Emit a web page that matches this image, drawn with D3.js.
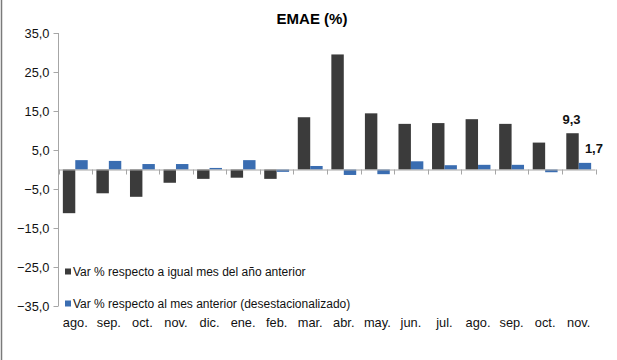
<!DOCTYPE html>
<html><head><meta charset="utf-8">
<script src="https://cdn.jsdelivr.net/npm/d3@7"></script>
<style>body{margin:0;background:#fff}svg{display:block}</style>
</head><body>
<svg id="c" width="617" height="360"></svg>
<script>
const categories = ["ago.","sep.","oct.","nov.","dic.","ene.","feb.","mar.","abr.","may.","jun.","jul.","ago.","sep.","oct.","nov."];
const interanual = [-11.2,-6.1,-7.0,-3.4,-2.4,-2.1,-2.4,13.4,29.5,14.4,11.7,11.9,12.9,11.7,6.9,9.3];
const mensual = [2.4,2.2,1.4,1.4,0.4,2.4,-0.6,0.9,-1.4,-1.2,2.1,1.1,1.2,1.2,-0.7,1.7];
const yTicks = [35,25,15,5,-5,-15,-25,-35];
const seriesNames = ["Var % respecto a igual mes del año anterior","Var % respecto al mes anterior (desestacionalizado)"];
const colors = ["#3b3b3b","#3a6db1"];

const svg = d3.select("#c");
const font = "'Liberation Sans', Arial, sans-serif";
const fmt = v => d3.format(".1f")(v).replace(".", ",");

const x = d3.scaleBand().domain(d3.range(categories.length)).range([58.5, 595.5]).paddingInner(0).paddingOuter(0);
const y = d3.scaleLinear().domain([-35, 35]).range([306, 33]);
const inner = d3.scaleBand().domain([0,1]).range([0, x.bandwidth()]).paddingInner(0).paddingOuter(0.35);

// left border
svg.append("line").attr("x1",1.5).attr("x2",1.5).attr("y1",0).attr("y2",360).attr("stroke","#7a7a7a").attr("stroke-width",1.5);

// title
svg.append("text").attr("x",312).attr("y",24).attr("text-anchor","middle")
  .attr("font-family",font).attr("font-weight","bold").attr("font-size",15).text("EMAE (%)");

// y axis
const yAxis = d3.axisLeft(y).tickValues(yTicks).tickFormat(fmt).tickSize(5).tickPadding(4);
const gy = svg.append("g").attr("transform","translate(58.5,0)").call(yAxis);
gy.selectAll(".tick line").attr("stroke","#a6a6a6");
gy.selectAll(".tick text").attr("font-family",font).attr("font-size",12.8).attr("fill","#111");
gy.select(".domain").attr("stroke","#a6a6a6").attr("d", `M0,${y(-35)}V${y(35)}`);

// bars
const groups = [interanual, mensual];
groups.forEach((vals, s) => {
  svg.append("g").selectAll("rect").data(vals).join("rect")
    .attr("x", (d,i) => x(i) + inner(s))
    .attr("width", inner.bandwidth())
    .attr("y", d => y(Math.max(0,d)))
    .attr("height", d => Math.abs(y(d) - y(0)))
    .attr("fill", colors[s]);
});

// x axis at zero
const xAxis = d3.axisBottom(x).tickSize(5).tickFormat("");
const gx = svg.append("g").attr("transform",`translate(0,${y(0)})`).call(xAxis);
gx.select(".domain").attr("stroke","#a6a6a6").attr("d",`M58.5,0.5H595.5`);
gx.selectAll(".tick").remove();
const boundaries = d3.range(categories.length + 1).map(i => i < categories.length ? x(i) : x(categories.length-1) + x.bandwidth());
gx.selectAll("line.b").data(boundaries).join("line").attr("class","b")
  .attr("x1", d => Math.round(d)+0.5).attr("x2", d => Math.round(d)+0.5)
  .attr("y1",0).attr("y2",5).attr("stroke","#a6a6a6");

// category labels
svg.append("g").selectAll("text").data(categories).join("text")
  .attr("x",(d,i) => x(i) + x.bandwidth()/2).attr("y",326.5).attr("text-anchor","middle")
  .attr("font-family",font).attr("font-size",12.8).attr("fill","#111").text(d => d);

// data labels on last point
const last = categories.length - 1;
svg.append("text").attr("x", x(last) + inner(0) + inner.bandwidth()/2 - 1).attr("y", y(interanual[last]) - 9)
  .attr("text-anchor","middle").attr("font-family",font).attr("font-weight","bold").attr("font-size",13).attr("fill","#111")
  .text(fmt(interanual[last]));
svg.append("text").attr("x", x(last) + inner(1) + inner.bandwidth()/2 + 9).attr("y", y(mensual[last]) - 10)
  .attr("text-anchor","middle").attr("font-family",font).attr("font-weight","bold").attr("font-size",13).attr("fill","#111")
  .text(fmt(mensual[last]));

// legend
const leg = svg.append("g");
[271.5, 303.5].forEach((cy, i) => {
  leg.append("rect").attr("x",65).attr("y",cy-3).attr("width",6).attr("height",6).attr("fill",colors[i]);
  leg.append("text").attr("x",73).attr("y",cy+4.3).attr("font-family",font).attr("font-size",12).attr("fill","#111").text(seriesNames[i]);
});
</script>
</body></html>
